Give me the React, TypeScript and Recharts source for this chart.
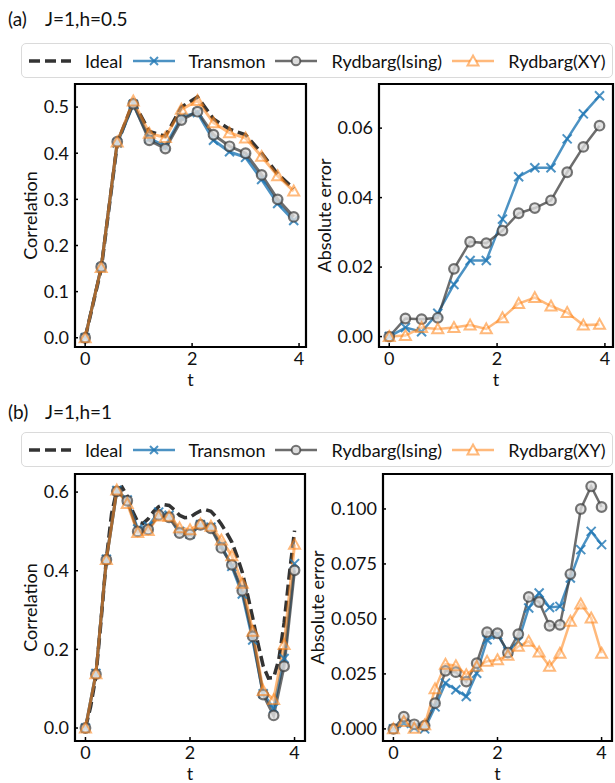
import React from 'react';
import { LineChart, Line, XAxis, YAxis, ReferenceArea } from 'recharts';

// (a) J=1, h=0.5
const tA = [0, 0.3, 0.6, 0.9, 1.2, 1.5, 1.8, 2.1, 2.4, 2.7, 3.0, 3.3, 3.6, 3.9];
const idealA = [0, 0.149, 0.42, 0.512, 0.447, 0.437, 0.5, 0.522, 0.474, 0.452, 0.44, 0.4, 0.355, 0.323];
const transmonA = [0, 0.152, 0.422, 0.506, 0.432, 0.415, 0.478, 0.488, 0.428, 0.403, 0.391, 0.343, 0.291, 0.254];
const isingA = [0, 0.154, 0.425, 0.507, 0.428, 0.41, 0.472, 0.49, 0.44, 0.415, 0.4, 0.353, 0.3, 0.262];
const xyA = [0, 0.152, 0.424, 0.513, 0.443, 0.434, 0.495, 0.514, 0.466, 0.444, 0.433, 0.393, 0.351, 0.318];
const errTransmonA = [0, 0.0026, 0.0014, 0.0067, 0.015, 0.0219, 0.0219, 0.0338, 0.046, 0.0486, 0.0486, 0.0569, 0.0641, 0.0693];
const errIsingA = [0, 0.0052, 0.005, 0.0054, 0.0195, 0.0273, 0.0269, 0.0305, 0.0355, 0.037, 0.0392, 0.0473, 0.0546, 0.0607];
const errXyA = [0, 0.0003, 0.0026, 0.0022, 0.0026, 0.0033, 0.0022, 0.0054, 0.0095, 0.0112, 0.0088, 0.0069, 0.0033, 0.0035];

// (b) J=1, h=1
const tB = [0, 0.2, 0.4, 0.6, 0.8, 1.0, 1.2, 1.4, 1.6, 1.8, 2.0, 2.2, 2.4, 2.6, 2.8, 3.0, 3.2, 3.4, 3.6, 3.8, 4.0];
const transmonB = [0, 0.139, 0.429, 0.604, 0.58, 0.506, 0.513, 0.549, 0.541, 0.5, 0.493, 0.517, 0.511, 0.463, 0.411, 0.341, 0.224, 0.087, 0.05, 0.177, 0.418];
const isingB = [0, 0.137, 0.428, 0.602, 0.578, 0.5, 0.505, 0.542, 0.536, 0.496, 0.492, 0.517, 0.508, 0.458, 0.415, 0.349, 0.233, 0.085, 0.032, 0.157, 0.401];
const xyB = [0, 0.138, 0.428, 0.605, 0.571, 0.497, 0.502, 0.539, 0.538, 0.509, 0.504, 0.519, 0.513, 0.478, 0.438, 0.368, 0.246, 0.095, 0.072, 0.212, 0.467];
const errTransmonB = [0, 0.0025, 0.0005, 0, 0.01, 0.0208, 0.0178, 0.0147, 0.0253, 0.0405, 0.0428, 0.0352, 0.0398, 0.055, 0.0618, 0.0552, 0.0557, 0.0686, 0.0815, 0.0898, 0.0838];
const errIsingB = [0, 0.0056, 0.0021, 0.0015, 0.0117, 0.0264, 0.0258, 0.0215, 0.0299, 0.044, 0.0435, 0.0347, 0.0431, 0.06, 0.0577, 0.0469, 0.0473, 0.0704, 0.1, 0.1103, 0.1009];
const errXyB = [0, 0.0033, 0.0003, 0.0018, 0.0182, 0.0294, 0.0287, 0.0246, 0.0284, 0.0307, 0.0314, 0.0334, 0.0375, 0.0398, 0.0349, 0.0284, 0.0344, 0.0489, 0.0568, 0.0504, 0.0344];
// ideal curve is sampled finer
const tIdealB = [0, 0.1, 0.2, 0.3, 0.4, 0.5, 0.6, 0.7, 0.8, 0.9, 1.0, 1.1, 1.2, 1.3, 1.4, 1.5, 1.6, 1.7, 1.8, 1.9, 2.0, 2.1, 2.2, 2.3, 2.4, 2.5, 2.6, 2.7, 2.8, 2.9, 3.0, 3.1, 3.2, 3.3, 3.4, 3.5, 3.6, 3.7, 3.8, 3.9, 4.0];
const idealB = [0, 0.055, 0.132, 0.275, 0.43, 0.545, 0.606, 0.613, 0.59, 0.552, 0.524, 0.52, 0.532, 0.55, 0.563, 0.568, 0.566, 0.555, 0.541, 0.535, 0.536, 0.545, 0.552, 0.555, 0.551, 0.537, 0.518, 0.497, 0.473, 0.437, 0.396, 0.34, 0.28, 0.215, 0.158, 0.127, 0.128, 0.175, 0.267, 0.39, 0.502];

const C_IDEAL = '#333333';
const C_TRANS = '#1f77b4';
const C_ISING = '#3c3c3c';
const C_XY = '#ff7f0e';
const FONT = 'Lato, "Open Sans", sans-serif';
const M = 5;

const rowsOf = (t, a, b, c) => t.map((v, i) => ({ t: v, transmon: a[i], ising: b[i], xy: c[i] }));
const idealOf = (t, v) => t.map((x, i) => ({ t: x, ideal: v[i] }));

const xDot = (size, w) => (p) => {
  const { cx, cy, index } = p;
  if (cx == null || cy == null) return <g key={`x${index}`} />;
  const s = size;
  return (
    <path key={`x${index}`} d={`M${cx - s},${cy - s}L${cx + s},${cy + s}M${cx - s},${cy + s}L${cx + s},${cy - s}`}
      stroke={C_TRANS} strokeOpacity={0.8} strokeWidth={w} fill="none" />
  );
};
const oDot = (r, w) => (p) => {
  const { cx, cy, index } = p;
  if (cx == null || cy == null) return <g key={`o${index}`} />;
  return <circle key={`o${index}`} cx={cx} cy={cy} r={r} fill="#dcdcdc" fillOpacity={0.8} stroke={C_ISING} strokeOpacity={0.7} strokeWidth={w} />;
};
const tDot = (s, w) => (p) => {
  const { cx, cy, index } = p;
  if (cx == null || cy == null) return <g key={`t${index}`} />;
  return (
    <path key={`t${index}`} d={`M${cx},${cy - s}L${cx + s},${cy + s * 0.8}L${cx - s},${cy + s * 0.8}Z`}
      fill="#fff" fillOpacity={0.3} stroke={C_XY} strokeOpacity={0.55} strokeWidth={w} />
  );
};

const XTick = (p) => {
  const { x, y, payload } = p;
  return (
    <g>
      <line x1={x} x2={x} y1={y - M} y2={y - M - 4} stroke="#000" strokeWidth={1.5} />
      <text x={x} y={y} dy="0.71em" textAnchor="middle" fontSize={18} fill="#111" fontFamily={FONT}>{payload.value}</text>
    </g>
  );
};
const yTick = (digits) => (p) => {
  const { x, y, payload } = p;
  return (
    <g>
      <line x1={x + M} x2={x + M + 4} y1={y} y2={y} stroke="#000" strokeWidth={1.5} />
      <text x={x} y={y} dy="0.35em" textAnchor="end" fontSize={18} fill="#111" fontFamily={FONT}>{Number(payload.value).toFixed(digits)}</text>
    </g>
  );
};

function Panel({ box, xDomain, yDomain, yTicks, digits, yLabel, labelX, rows, ideal, thick }) {
  const YW = 90;
  const XH = 42;
  const width = box.x1 - box.x0 + YW + 4;
  const height = box.y1 - box.y0 + 4 + XH;
  const lw = thick ? 3 : 2.5;
  return (
    <div style={{ position: 'absolute', left: box.x0 - YW, top: box.y0 - 4 }}>
      <LineChart width={width} height={height} data={rows} margin={{ top: 4, right: 4, bottom: 0, left: 0 }}>
        <XAxis dataKey="t" type="number" domain={xDomain} ticks={[0, 2, 4]} allowDataOverflow
          axisLine={false} tickSize={0} tickMargin={M} tick={XTick} height={XH}
          label={{ value: 't', position: 'insideBottom', offset: 3, fontSize: 18, fill: '#111', fontFamily: FONT }} />
        <YAxis type="number" domain={yDomain} ticks={yTicks} allowDataOverflow width={YW}
          axisLine={false} tickSize={0} tickMargin={6} tick={yTick(digits)}
          label={{ value: yLabel, angle: -90, position: 'insideLeft', offset: labelX - (box.x0 - YW), fontSize: 18, fill: '#111', fontFamily: FONT, style: { textAnchor: 'middle' } }} />
        {ideal && (
          <Line data={ideal} dataKey="ideal" stroke={C_IDEAL} strokeWidth={3.5} strokeDasharray="11 5" dot={false} isAnimationActive={false} />
        )}
        <Line dataKey="transmon" stroke={C_TRANS} strokeOpacity={0.8} strokeWidth={lw} dot={xDot(4.5, 2)} isAnimationActive={false} />
        <Line dataKey="ising" stroke={C_ISING} strokeOpacity={0.75} strokeWidth={lw} dot={oDot(4.8, 2.2)} isAnimationActive={false} />
        <Line dataKey="xy" stroke={C_XY} strokeOpacity={0.55} strokeWidth={lw} dot={tDot(5.5, 2)} isAnimationActive={false} />
        <ReferenceArea x1={xDomain[0]} x2={xDomain[1]} y1={yDomain[0]} y2={yDomain[1]} fill="none" stroke="#000" strokeWidth={2.2} ifOverflow="visible" />
      </LineChart>
    </div>
  );
}

function LegendIcon({ kind }) {
  return (
    <svg width={42} height={20} style={{ display: 'block' }}>
      {kind === 'ideal' && <line x1={0} x2={42} y1={10} y2={10} stroke={C_IDEAL} strokeWidth={3.5} strokeDasharray="11 5" />}
      {kind === 'transmon' && (
        <g>
          <line x1={0} x2={42} y1={10} y2={10} stroke={C_TRANS} strokeOpacity={0.8} strokeWidth={2.5} />
          <path d="M17,6L25,14M17,14L25,6" stroke={C_TRANS} strokeOpacity={0.8} strokeWidth={2} />
        </g>
      )}
      {kind === 'ising' && (
        <g>
          <line x1={0} x2={42} y1={10} y2={10} stroke={C_ISING} strokeOpacity={0.75} strokeWidth={2.5} />
          <circle cx={21} cy={10} r={4.3} fill="#dcdcdc" stroke={C_ISING} strokeOpacity={0.7} strokeWidth={2} />
        </g>
      )}
      {kind === 'xy' && (
        <g>
          <line x1={0} x2={42} y1={10} y2={10} stroke={C_XY} strokeOpacity={0.55} strokeWidth={2.5} />
          <path d="M21,4.5L26.5,14.5L15.5,14.5Z" fill="#fff" stroke={C_XY} strokeOpacity={0.55} strokeWidth={2} />
        </g>
      )}
    </svg>
  );
}

const legendItems = [
  { kind: 'ideal', label: 'Ideal' },
  { kind: 'transmon', label: 'Transmon' },
  { kind: 'ising', label: 'Rydbarg(Ising)' },
  { kind: 'xy', label: 'Rydbarg(XY)' },
];

function LegendBox({ top }) {
  return (
    <div style={{
      position: 'absolute', left: 21, top, width: 592, height: 35, boxSizing: 'border-box',
      border: '1px solid #dadada', borderRadius: 5, display: 'flex', alignItems: 'center',
      paddingLeft: 7, fontSize: 18, color: '#111',
    }}>
      {legendItems.map((it) => (
        <div key={it.kind} style={{ display: 'flex', alignItems: 'center' }}>
          <LegendIcon kind={it.kind} />
          <span style={{ marginLeft: 14, marginRight: 10 }}>{it.label}</span>
        </div>
      ))}
    </div>
  );
}

function Title({ top, tag, text }) {
  return (
    <div style={{ position: 'absolute', left: 8, top, fontSize: 19, color: '#111', lineHeight: '22px', whiteSpace: 'pre' }}>
      <span>{tag}</span>
      <span style={{ position: 'absolute', left: 37 }}>{text}</span>
    </div>
  );
}

export default function App() {
  const rowsAL = rowsOf(tA, transmonA, isingA, xyA);
  const rowsAR = rowsOf(tA, errTransmonA, errIsingA, errXyA);
  const rowsBL = rowsOf(tB, transmonB, isingB, xyB);
  const rowsBR = rowsOf(tB, errTransmonB, errIsingB, errXyB);
  return (
    <div style={{ position: 'absolute', left: 0, top: 0, width: 615, height: 783, background: '#fff', fontFamily: FONT, overflow: 'hidden' }}>
      <Title top={8} tag="(a)" text="J=1,h=0.5" />
      <LegendBox top={43} />
      <Panel box={{ x0: 75, y0: 84, x1: 306, y1: 347 }} xDomain={[-0.19, 4.13]} yDomain={[-0.02, 0.55]}
        yTicks={[0, 0.1, 0.2, 0.3, 0.4, 0.5]} digits={1} yLabel="Correlation" labelX={31}
        rows={rowsAL} ideal={idealOf(tA, idealA)} thick />
      <Panel box={{ x0: 379, y0: 84, x1: 613, y1: 347 }} xDomain={[-0.19, 4.15]} yDomain={[-0.003, 0.0727]}
        yTicks={[0, 0.02, 0.04, 0.06]} digits={2} yLabel="Absolute error" labelX={325}
        rows={rowsAR} />

      <Title top={401} tag="(b)" text="J=1,h=1" />
      <LegendBox top={432} />
      <Panel box={{ x0: 75, y0: 474, x1: 305, y1: 741 }} xDomain={[-0.2, 4.2]} yDomain={[-0.033, 0.646]}
        yTicks={[0, 0.2, 0.4, 0.6]} digits={1} yLabel="Correlation" labelX={31}
        rows={rowsBL} ideal={idealOf(tIdealB, idealB)} thick />
      <Panel box={{ x0: 383, y0: 474, x1: 612, y1: 741 }} xDomain={[-0.2, 4.2]} yDomain={[-0.0055, 0.1159]}
        yTicks={[0, 0.025, 0.05, 0.075, 0.1]} digits={3} yLabel="Absolute error" labelX={318}
        rows={rowsBR} />
    </div>
  );
}
